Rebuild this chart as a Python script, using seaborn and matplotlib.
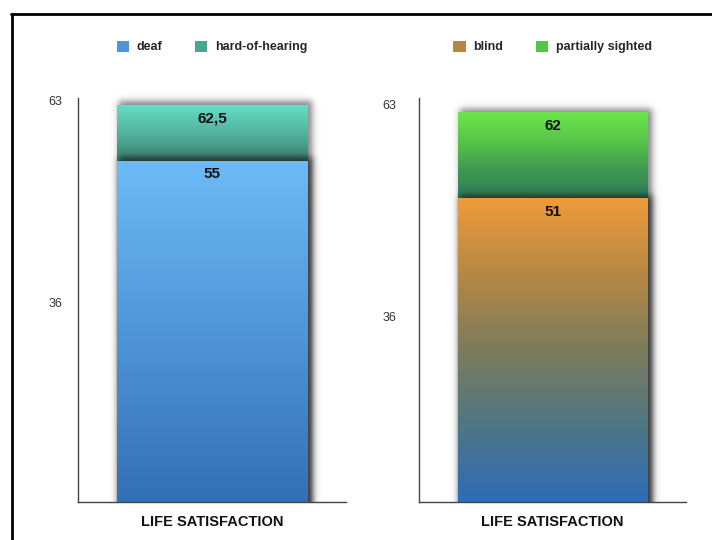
import numpy as np
import pandas as pd
import matplotlib
matplotlib.use("Agg")
import matplotlib.pyplot as plt
from matplotlib.colors import LinearSegmentedColormap
from matplotlib.patches import Patch
from matplotlib.lines import Line2D
import seaborn as sns

# ---- data ----
measure = ["LIFE SATISFACTION"]
hearing_groups = ["deaf", "hard-of-hearing"]
hearing_values = [55, 62.5]
hearing_labels = ["55", "62,5"]
sight_groups = ["blind", "partially sighted"]
sight_values = [51, 62]
sight_labels = ["51", "62"]
y_ticks = [36, 63]

# ---- style ----
sns.set_theme(style="white")
plt.rcParams["font.family"] = ["Liberation Sans", "DejaVu Sans"]

W, H = 712, 540
fig = plt.figure(figsize=(W / 100, H / 100), dpi=100)
fig.patch.set_facecolor("white")

# gradient colour stops (top -> bottom) for each group
gradients = {
    "deaf": ["#6cbaf6", "#4f96d8", "#3370b5"],
    "hard-of-hearing": ["#66dec7", "#52b49d", "#3a8272"],
    "blind": ["#ee9b3a", "#b68744", "#7c7c5c", "#4f7684", "#2e6cb8"],
    "partially sighted": ["#6ce84a", "#58c649", "#409a50", "#2f7c5a"],
}
swatch = {
    "deaf": "#4f96d8",
    "hard-of-hearing": "#45a793",
    "blind": "#b68744",
    "partially sighted": "#56c349",
}


def soft_step(d, sigma):
    return 0.5 * (1 + np.tanh(d / sigma))


def drop_shadow(ax, x0, x1, y0, y1, px_x, px_y, z, dx=3, dy=2, grow=1.5,
                sigma=4.0, strength=0.6, margin=24):
    xs = np.linspace(x0 - margin * px_x, x1 + margin * px_x, 300)
    ys = np.linspace(y0, y1 + margin * px_y, 500)
    sx0, sx1 = x0 + (dx - grow) * px_x, x1 + (dx + grow) * px_x
    sy1 = y1 + (dy + grow) * px_y
    ax_ = soft_step((xs - sx0) / px_x, sigma) * soft_step((sx1 - xs) / px_x, sigma)
    ay_ = soft_step((sy1 - ys) / px_y, sigma)
    img = np.zeros((len(ys), len(xs), 4))
    img[..., :3] = 0.12
    img[..., 3] = np.outer(ay_, ax_) * strength
    ax.imshow(img, extent=[xs[0], xs[-1], ys[0], ys[-1]], origin="lower",
              aspect="auto", zorder=z, clip_on=False, interpolation="bilinear")


def gradient_fill(ax, patch, colors, y_lo, y_hi, z):
    cmap = LinearSegmentedColormap.from_list("g", colors[::-1])
    grad = np.linspace(0, 1, 256).reshape(-1, 1)
    x0 = patch.get_x()
    x1 = x0 + patch.get_width()
    im = ax.imshow(grad, cmap=cmap, extent=[x0, x1, y_lo, y_hi], origin="lower",
                   aspect="auto", zorder=z, interpolation="bilinear")
    im.set_clip_path(patch)


def panel(rect, groups, values, labels, ylim, ypad):
    ax = fig.add_axes(rect)
    df = pd.DataFrame({"measure": measure * len(groups), "group": groups,
                       "value": values})
    order = sorted(groups, key=lambda g: -df.set_index("group").loc[g, "value"])
    sns.barplot(data=df, x="measure", y="value", hue="group", hue_order=order,
                dodge=False, width=0.709, legend=False, ax=ax,
                palette=[swatch[g] for g in order])
    ax_w = rect[2] * W
    ax_h = rect[3] * H
    px_x = 1.0 / ax_w
    px_y = (ylim[1] - ylim[0]) / ax_h

    vals = [df.set_index("group").loc[g, "value"] for g in order]
    labs = dict(zip(groups, labels))
    for i, (g, p) in enumerate(zip(order, ax.patches)):
        p.set_facecolor("none")
        p.set_edgecolor("none")
        top = vals[i]
        bottom = vals[i + 1] if i + 1 < len(vals) else ylim[0]
        x0, x1 = p.get_x(), p.get_x() + p.get_width()
        drop_shadow(ax, x0, x1, ylim[0], top, px_x, px_y, z=1 + 2 * i,
                    strength=0.55 if i == 0 else 0.8)
        gradient_fill(ax, p, gradients[g], bottom, top, z=2 + 2 * i)
        ax.annotate(labs[g], (0, top), xytext=(0, -4.6),
                    textcoords="offset points", ha="center", va="top",
                    fontsize=11, fontweight="bold", color="#111111", zorder=10)

    ax.set_xlim(-0.5, 0.5)
    ax.set_ylim(*ylim)
    ax.set_yticks(y_ticks)
    ax.set_yticklabels([str(t) for t in y_ticks])
    ax.set_xlabel("")
    ax.set_ylabel("")
    sns.despine(ax=ax)
    for s in ("left", "bottom"):
        ax.spines[s].set_color("#444444")
        ax.spines[s].set_linewidth(1.0)
        ax.spines[s].set_zorder(8)
    ax.tick_params(axis="y", length=0, pad=ypad, labelsize=9, labelcolor="#333333")
    ax.tick_params(axis="x", length=0, pad=9, labelsize=10.5)
    for t in ax.get_xticklabels():
        t.set_fontweight("bold")
        t.set_color("#111111")
    ax.set_facecolor("none")

    cx = (rect[0] + rect[2] / 2)
    handles = [Patch(facecolor=swatch[g], edgecolor="none") for g in groups]
    fig.legend(handles, groups, loc="center", bbox_to_anchor=(cx, 1 - 47 / H),
               ncol=2, frameon=False, prop=dict(weight="bold", size=9),
               handlelength=1.0, handleheight=1.0, handletextpad=0.6,
               columnspacing=2.6)
    return ax


bottom_f = (H - 502) / H
height_f = 404 / H
panel([78 / W, bottom_f, 268 / W, height_f], hearing_groups, hearing_values,
      hearing_labels, (9.4, 63.4), 11)
panel([419 / W, bottom_f, 267 / W, height_f], sight_groups, sight_values,
      sight_labels, (12.3, 63.8), 16.5)

# outer frame
fig.add_artist(Line2D([11 / W, 1], [1 - 13.5 / H] * 2, transform=fig.transFigure,
                      color="black", lw=2))
fig.add_artist(Line2D([12 / W] * 2, [0, 1 - 13.5 / H], transform=fig.transFigure,
                      color="black", lw=2))

fig.savefig("out.png", dpi=100)
